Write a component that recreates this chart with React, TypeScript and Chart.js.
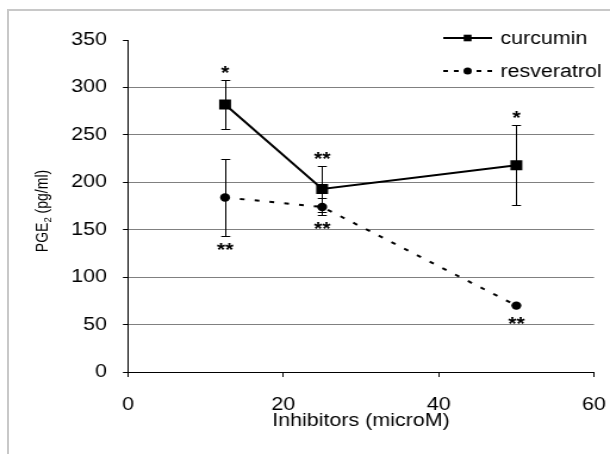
import { useEffect, useRef } from 'react';
import { Chart, registerables } from 'chart.js';

Chart.register(...registerables);

// Inhibitor concentrations (microM)
const doses = [12.5, 25, 50];

// PGE2 levels (pg/ml) with standard deviations and significance marks
const curcumin = [282, 193, 218];
const curcuminErr = [26, 24, 42];
const curcuminMarks = ['*', '**', '*'];

const resveratrol = [184, 174, 70];
const resveratrolErr = [41, 9, 0];
const resveratrolMarks = ['**', '**', '**'];

const seriesNames = ['curcumin', 'resveratrol'];
const xTitle = 'Inhibitors (microM)';
const yTitleMain = 'PGE';
const yTitleSub = '2';
const yTitleUnit = ' (pg/ml)';

const X_MIN = 0;
const X_MAX = 60;
const X_STEP = 20;
const Y_MIN = 0;
const Y_MAX = 350;
const Y_STEP = 50;

const FONT = '"Liberation Sans", Arial, Helvetica, sans-serif';

// The drawing surface is narrower than its display box, so everything is widened
const CANVAS_W = 512;
const CANVAS_H = 454;
const DISPLAY_W = 610;

const overlay = {
  id: 'overlay',
  beforeDatasetsDraw(chart: any) {
    const { ctx } = chart;
    const xs = chart.scales.x;
    const ys = chart.scales.y;
    ctx.save();
    ctx.strokeStyle = '#000';
    ctx.lineWidth = 1;
    chart.data.datasets.forEach((ds: any) => {
      ds.data.forEach((p: any, j: number) => {
        const e = ds.errors[j];
        if (!e) return;
        const x = Math.round(xs.getPixelForValue(p.x)) + 0.5;
        const yt = Math.round(ys.getPixelForValue(p.y + e)) + 0.5;
        const yb = Math.round(ys.getPixelForValue(p.y - e)) + 0.5;
        ctx.beginPath();
        ctx.moveTo(x, yt);
        ctx.lineTo(x, yb);
        ctx.moveTo(x - 3.8, yt);
        ctx.lineTo(x + 3.8, yt);
        ctx.moveTo(x - 3.8, yb);
        ctx.lineTo(x + 3.8, yb);
        ctx.stroke();
      });
    });
    ctx.restore();
  },
  afterDatasetsDraw(chart: any) {
    const { ctx, chartArea } = chart;
    const xs = chart.scales.x;
    const ys = chart.scales.y;
    ctx.save();
    ctx.fillStyle = '#000';

    // significance marks
    ctx.font = `bold 18px ${FONT}`;
    ctx.textAlign = 'center';
    ctx.textBaseline = 'alphabetic';
    chart.data.datasets.forEach((ds: any) => {
      ds.data.forEach((p: any, j: number) => {
        const label = ds.marks[j];
        if (!label) return;
        const e = ds.errors[j];
        const x = xs.getPixelForValue(p.x);
        let cy: number;
        if (ds.markSide < 0) {
          const top = Math.min(ys.getPixelForValue(p.y + e), ys.getPixelForValue(p.y) - ds.pointRadius);
          cy = top - 11;
        } else {
          const bot = Math.max(ys.getPixelForValue(p.y - e), ys.getPixelForValue(p.y) + ds.pointRadius);
          cy = bot + 10;
        }
        ctx.fillText(label, x, cy + 10);
      });
    });

    // legend
    const lx0 = 372;
    const lx1 = 413;
    const lxm = (lx0 + lx1) / 2;
    const tx = 420;
    const rows = [38, 71];
    ctx.textAlign = 'left';
    ctx.textBaseline = 'middle';
    ctx.font = `18px ${FONT}`;
    ctx.strokeStyle = '#000';
    ctx.lineWidth = 2;

    // curcumin entry
    ctx.beginPath();
    ctx.moveTo(lx0, rows[0]);
    ctx.lineTo(lx1, rows[0]);
    ctx.stroke();
    ctx.fillRect(lxm - 3.3, rows[0] - 3.3, 6.6, 6.6);
    ctx.fillText(seriesNames[0], tx, rows[0] + 1);

    // resveratrol entry
    ctx.setLineDash([4, 5]);
    ctx.lineDashOffset = 0;
    ctx.beginPath();
    ctx.moveTo(lx0, rows[1]);
    ctx.lineTo(lxm, rows[1]);
    ctx.stroke();
    ctx.beginPath();
    ctx.moveTo(lx1, rows[1]);
    ctx.lineTo(lxm, rows[1]);
    ctx.stroke();
    ctx.setLineDash([]);
    ctx.beginPath();
    ctx.arc(lxm, rows[1], 3.5, 0, Math.PI * 2);
    ctx.fill();
    ctx.fillText(seriesNames[1], tx, rows[1] + 1);

    // x axis title
    ctx.textAlign = 'center';
    ctx.textBaseline = 'alphabetic';
    ctx.font = `18px ${FONT}`;
    ctx.fillText(xTitle, (chartArea.left + chartArea.right) / 2, 426);

    // y axis title with subscript
    const mainFont = `14px ${FONT}`;
    const subFont = `9.5px ${FONT}`;
    ctx.font = mainFont;
    const w1 = ctx.measureText(yTitleMain).width;
    const w3 = ctx.measureText(yTitleUnit).width;
    ctx.font = subFont;
    const w2 = ctx.measureText(yTitleSub).width;
    const total = w1 + w2 + w3;
    ctx.translate(35, 211);
    ctx.rotate(-Math.PI / 2);
    ctx.textAlign = 'left';
    ctx.textBaseline = 'alphabetic';
    const base = 5;
    let cx = -total / 2;
    ctx.font = mainFont;
    ctx.fillText(yTitleMain, cx, base);
    cx += w1;
    ctx.font = subFont;
    ctx.fillText(yTitleSub, cx, base + 2.5);
    cx += w2;
    ctx.font = mainFont;
    ctx.fillText(yTitleUnit, cx, base);

    ctx.restore();
  },
};

export default function App() {
  const canvasRef = useRef<HTMLCanvasElement | null>(null);

  useEffect(() => {
    const canvas = canvasRef.current;
    if (!canvas) return;

    const chart = new Chart(canvas, {
      type: 'line',
      data: {
        datasets: [
          {
            label: seriesNames[0],
            data: doses.map((x, i) => ({ x, y: curcumin[i] })),
            borderColor: '#000',
            backgroundColor: '#000',
            borderWidth: 2,
            pointStyle: 'rect',
            pointRadius: 7.07,
            pointBorderWidth: 0,
            pointBackgroundColor: '#000',
            tension: 0,
            errors: curcuminErr,
            marks: curcuminMarks,
            markSide: -1,
          } as any,
          {
            label: seriesNames[1],
            data: doses.map((x, i) => ({ x, y: resveratrol[i] })),
            borderColor: '#000',
            backgroundColor: '#000',
            borderWidth: 2,
            borderDash: [4, 8.5],
            pointStyle: 'circle',
            pointRadius: 4.2,
            pointBorderWidth: 0,
            pointBackgroundColor: '#000',
            tension: 0,
            errors: resveratrolErr,
            marks: resveratrolMarks,
            markSide: 1,
          } as any,
        ],
      },
      options: {
        animation: false,
        responsive: false,
        devicePixelRatio: 1,
        layout: { padding: { left: 0, right: 13.4, top: 40, bottom: 0 } },
        plugins: {
          legend: { display: false },
          tooltip: { enabled: false },
          title: { display: false },
        },
        scales: {
          x: {
            type: 'linear',
            min: X_MIN,
            max: X_MAX,
            ticks: {
              stepSize: X_STEP,
              color: '#000',
              font: { family: FONT, size: 18 },
              padding: 17,
              maxRotation: 0,
            },
            grid: {
              drawOnChartArea: false,
              drawTicks: true,
              tickLength: 5,
              tickColor: '#000',
            },
            border: { display: true, color: '#000', width: 1 },
            afterFit: (scale: any) => {
              scale.height = 82;
              scale.paddingLeft = 0;
              scale.paddingRight = 0;
            },
          },
          y: {
            type: 'linear',
            min: Y_MIN,
            max: Y_MAX,
            ticks: {
              stepSize: Y_STEP,
              color: '#000',
              font: { family: FONT, size: 18 },
              padding: 13.5,
            },
            grid: {
              drawOnChartArea: true,
              drawTicks: true,
              tickLength: 4.2,
              tickColor: '#000',
              tickBorderDash: [],
              color: (c: any) =>
                c.tick && (c.tick.value === Y_MIN || c.tick.value === Y_MAX) ? 'rgba(0,0,0,0)' : '#808080',
              borderDash: [3.4, 2.8],
              lineWidth: 1,
            },
            border: { display: true, color: '#000', width: 1 },
            afterFit: (scale: any) => {
              scale.width = 107.4;
              scale.paddingTop = 0;
              scale.paddingBottom = 0;
            },
          },
        },
      },
      plugins: [overlay],
    } as any);

    return () => chart.destroy();
  }, []);

  return (
    <div
      style={{
        position: 'fixed',
        left: 0,
        top: 0,
        width: DISPLAY_W,
        height: CANVAS_H,
        overflow: 'hidden',
        background: '#fff',
      }}
    >
      <div
        style={{
          position: 'absolute',
          left: 7,
          top: 9,
          width: 800,
          height: 600,
          borderLeft: '2px solid #c8c8c8',
          borderTop: '2px solid #c8c8c8',
        }}
      />
      <canvas
        ref={canvasRef}
        width={CANVAS_W}
        height={CANVAS_H}
        style={{
          position: 'absolute',
          left: 0,
          top: 0,
          width: `${DISPLAY_W}px`,
          height: `${CANVAS_H}px`,
        }}
      />
    </div>
  );
}
